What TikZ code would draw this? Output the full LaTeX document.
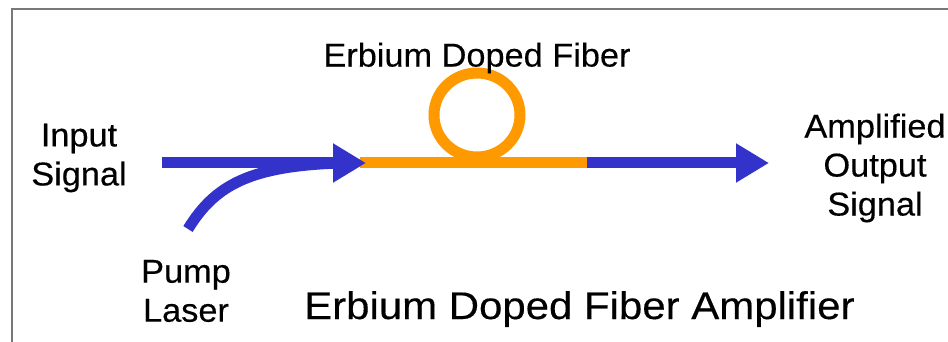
\documentclass[tikz,border=0pt]{standalone}
\usepackage{fontspec}
\setmainfont{Liberation Sans}[FakeStretch=1.04, FakeBold=0.3]
\newfontfamily\titlefont{Liberation Sans}[FakeStretch=1.09, FakeBold=0.3]
\usetikzlibrary{arrows.meta}
\definecolor{sigblue}{RGB}{51,51,204}
\definecolor{fiberorange}{RGB}{255,153,0}
\definecolor{framegray}{RGB}{120,120,120}
\tikzset{
  lbl/.style={inner sep=0pt, align=center, font=\fontsize{33}{39}\selectfont},
  bluefiber/.style={draw=sigblue, line width=11pt},
  orangefiber/.style={draw=fiberorange, line width=11pt},
  bigtip/.style={-{Triangle[length=33pt,width=37pt]}},
}
\begin{document}
\begin{tikzpicture}[x=1pt,y=-1pt]
\useasboundingbox (0,0) rectangle (948,342);
\fill[white] (0,0) rectangle (948,342);
% frame (top and left edges)
\draw[framegray, line width=2pt] (12,342) -- (12,9) -- (948,9);
% coordinates
\coordinate (s0) at (162,163);
\coordinate (j) at (366,163);
\coordinate (k) at (587,163);
\coordinate (e) at (769,163);
\coordinate (p0) at (188,229);
% orange erbium fiber with loop
\draw[orangefiber] (360,163) -- (k);
\draw[orangefiber] (477,115) ellipse [x radius=43, y radius=42];
% input signal and pump
\draw[bluefiber] (p0) .. controls (215,185) and (250,166) .. (340,163);
\draw[bluefiber, bigtip] (s0) -- (j);
% output
\draw[bluefiber, bigtip] (k) -- (e);
% labels
\node[lbl] (inlbl) at (79,158) {Input\\Signal};
\node[lbl] (edflbl) at (477,58) {Erbium Doped Fiber};
\node[lbl] (outlbl) at (875,168) {Amplified\\Output\\Signal};
\node[lbl] (pumplbl) at (186,291) {Pump\\Laser};
\node[inner sep=0pt, anchor=base west, font=\titlefont\fontsize{38.5}{44}\selectfont] (title) at (304,319) {Erbium Doped Fiber Amplifier};
\end{tikzpicture}
\end{document}
